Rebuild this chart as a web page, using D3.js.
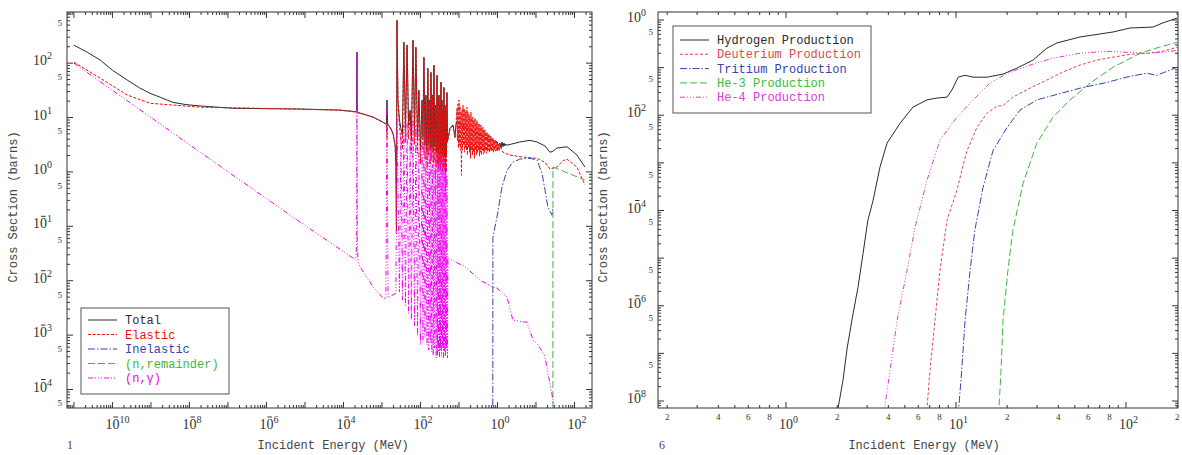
<!DOCTYPE html>
<html><head><meta charset="utf-8">
<script src="https://cdn.jsdelivr.net/npm/d3@7"></script>
<style>body{margin:0;background:#fff}svg{display:block}</style>
</head><body>
<svg id="c" width="1182" height="455"></svg>
<script>
// ---------------- DATA (energy MeV, cross section barns) ----------------
const leftTotal = [[1.0e-11,214],[2.2e-11,159],[4.8e-11,114],[1.0e-10,74],[2.4e-10,49],[5.1e-10,35],[9.4e-10,28],[1.9e-9,23],[3.7e-9,19],[8.1e-9,17.3],[1.9e-8,16.3],[1.35e-7,14.8],[7.4e-6,14.3],[8.1e-5,13.7],[2.1e-4,12.8],[2.2e-4,13.5],[2.24e-4,160],[2.28e-4,13],[2.4e-4,12.4],[5.9e-4,10.2],[1.07e-3,8.2],[1.3e-3,7.5],[1.35e-3,21],[1.4e-3,7.6],[1.7e-3,6.3],[1.94e-3,5.1],[2.2e-3,3.1],[2.3e-3,1.33],[2.38e-3,0.085],[2.45e-3,617],
[2.6e-3,21],[2.85e-3,9],[3.1e-3,6.3],[3.4e-3,4.7],[3.7e-3,244],[4.07e-3,6.3],[4.5e-3,216],[4.9e-3,7.3],[5.4e-3,13.7],[5.8e-3,3.8],[6.4e-3,265],[7.0e-3,5.9],[7.6e-3,197],[8.4e-3,3.8],[9.1e-3,32],[1.0e-2,2.5],[1.1e-2,21],[1.16e-2,4.4],[1.23e-2,129],[1.31e-2,3.1],[1.38e-2,26],[1.48e-2,2.3],[1.55e-2,81],[1.64e-2,3.4],[1.7e-2,21],[1.79e-2,2.5],[1.87e-2,68],[1.97e-2,2.9],[2.04e-2,26],[2.14e-2,2.3],[2.24e-2,92],[2.35e-2,2.9],[2.45e-2,17],[2.56e-2,2.2],[2.7e-2,60],[2.77e-2,2.5],[2.85e-2,21],[2.94e-2,2.2],[3.03e-2,26],[3.12e-2,2.6],[3.21e-2,17],[3.31e-2,2.0],[3.41e-2,45],[3.51e-2,2.5],[3.62e-2,21],[3.73e-2,1.9],[3.84e-2,13.7],[3.96e-2,2.2],[4.07e-2,36],[4.2e-2,2.0],[4.33e-2,17],[4.46e-2,1.0],[4.6e-2,13.7],[4.73e-2,1.9],[4.88e-2,29],[5.03e-2,3.8],[5.84e-2,6.3],[6.98e-2,7.3],[7.87e-2,4.4],[8.35e-2,7.3],
[8.87e-2,8.5],[0.12,7.0],[0.2,5.9],[0.35,4.8],[0.6,4.0],[0.97,3.6],[1.06,3.0],[1.16,3.4],[1.23,2.75],[1.31,3.55],[1.39,2.9],[1.47,3.4],[1.57,3.0],[1.66,3.25],[1.77,3.1],[3.8,3.55],[7.0,3.8],[10.6,3.55],[17.1,3.0],[23.1,2.3],[27.6,2.4],[35,2.75],[64,2.9],[116,2.04],[186,1.23]];

const leftElastic = [[1.0e-11,104],[4.8e-11,53],[2.4e-10,26],[9.4e-10,18.3],[1.9e-8,15.5],[7.4e-6,14.3],[8.1e-5,13.6],[2.1e-4,12.6],[2.24e-4,12.2],[2.4e-4,12.3],[5.9e-4,10.1],[1.07e-3,8.1],[1.3e-3,7.4],[1.35e-3,4],[1.4e-3,7.4],[1.7e-3,6.1],[1.94e-3,4.9],[2.2e-3,2.9],[2.3e-3,1.2],[2.38e-3,0.08],[2.45e-3,600],
[2.6e-3,20],[2.85e-3,7],[3.1e-3,3.8],[3.4e-3,2.6],[3.7e-3,240],[4.07e-3,3.5],[4.5e-3,210],[4.9e-3,4],[5.4e-3,12],[5.8e-3,2.2],[6.4e-3,260],[7.0e-3,3.2],[7.6e-3,190],[8.4e-3,2.2],[9.1e-3,30],[1.0e-2,1.4],[1.1e-2,20],[1.16e-2,2.5],[1.23e-2,125],[1.31e-2,1.7],[1.38e-2,25],[1.48e-2,1.2],[1.55e-2,78],[1.64e-2,2.0],[1.7e-2,20],[1.79e-2,1.4],[1.87e-2,66],[1.97e-2,1.6],[2.04e-2,25],[2.14e-2,1.3],[2.24e-2,90],[2.35e-2,1.6],[2.45e-2,16],[2.56e-2,1.2],[2.7e-2,58],[2.77e-2,1.4],[2.85e-2,20],[2.94e-2,1.2],[3.03e-2,25],[3.12e-2,1.5],[3.21e-2,16],[3.31e-2,1.1],[3.41e-2,44],[3.51e-2,1.4],[3.62e-2,20],[3.73e-2,1.0],[3.84e-2,13],[3.96e-2,1.2],[4.07e-2,35],[4.2e-2,1.1],[4.33e-2,16],[4.46e-2,0.45],[4.6e-2,13],[4.73e-2,1.0],[4.88e-2,28],[5.03e-2,3.5],[5.84e-2,6.0],[6.98e-2,7.0],[7.87e-2,4.2],[8.35e-2,7.0],
[0.0887,14.8],[0.0914,3.8],[0.0942,17.6],[0.0970,2.75],[0.100,21],[0.103,3.1],[0.106,16.2],[0.109,2.5],[0.113,12.6],[0.116,0.87],[0.120,13.7],[0.123,2.5],[0.127,17],[0.131,3.1],[0.135,14.8],[0.139,2.3],[0.143,13.7],[0.148,2.75],[0.152,12.6],[0.157,2.5],[0.161,15.5],[0.166,2.04],[0.171,12.6],[0.177,2.75],[0.182,11.5],[0.188,2.3],[0.193,10.6],[0.199,1.78],[0.205,12.6],[0.211,2.5],[0.218,9.8],[0.224,2.04],[0.231,10.2],[0.238,2.3],[0.245,8.9],[0.253,1.78],[0.261,9.8],[0.269,2.5],[0.277,8.2],[0.285,2.04],[0.294,8.9],[0.303,2.2],[0.312,7.6],[0.321,2.5],[0.331,7.9],[0.341,1.95],[0.351,6.95],[0.362,2.3],[0.373,7.3],[0.384,2.04],[0.396,6.4],[0.408,2.5],[0.420,6.7],[0.433,2.12],[0.446,5.9],[0.459,2.3],[0.473,5.9],[0.487,2.5],[0.502,5.4],[0.517,2.2],[0.533,5.4],[0.549,2.41],[0.566,5.0],[0.583,2.5],[0.601,5.0],[0.619,2.3],[0.638,4.55],[0.657,2.5],[0.678,4.55],[0.698,2.41],[0.719,4.2],[0.741,2.5],[0.764,4.2],[0.787,2.3],[0.811,3.8],[0.835,2.5],[0.861,3.8],[0.887,2.41],[0.914,3.55],[0.941,2.5],[0.970,3.55],[1.0,2.41],[1.03,3.25],[1.06,2.5],[1.09,3.25],[1.13,2.5],[1.16,3.1],
[1.39,2.3],[2.1,2.04],[4.6,1.87],[10.6,1.78],[17.1,1.5],[23.1,1.13],[27.6,1.17],[35,1.23],[50,1.6],[64,1.72],[116,1.23],[186,0.58]];

const leftInelastic = [[0.755,3e-5],[0.76,0.063],[0.97,0.148],[1.31,0.53],[1.77,1.07],[2.5,1.51],[3.8,1.72],[7.0,1.78],[10.6,1.66],[14.3,0.95],[17.1,0.47],[20.4,0.225],[26.1,0.16],[27.6,0.225]];

const leftRemainder = [[27.5,3e-5],[27.6,1.23],[186,0.71]];

const leftCapture = [[1.0e-11,100],[1.9e-8,2.3],[7.4e-6,0.12],[1.78e-4,0.026],[2.1e-4,0.024],[2.2e-4,0.05],[2.24e-4,159],[2.28e-4,0.05],[2.4e-4,0.022],[2.7e-4,0.018],[5.9e-4,7.6e-3],[1.07e-3,4.8e-3],[1.26e-3,4.6e-3],[1.35e-3,17],[1.44e-3,4.8e-3],[1.7e-3,5.2e-3],[2.3e-3,5.9e-3],
[2.45e-3,9.8],[2.85e-3,6.2e-3],[3.1e-3,4.7],[3.4e-3,4.4e-3],[3.7e-3,7.3],[4.07e-3,3.5e-3],[4.5e-3,8.2],[4.9e-3,2.5e-3],[5.4e-3,3.8],[5.8e-3,1.9e-3],[6.4e-3,8.9],[7.0e-3,1.5e-3],[7.6e-3,7.3],[8.4e-3,1.0e-3],[9.1e-3,2.5],[1.0e-2,6.6e-4],[1.1e-2,3.1],[1.16e-2,8.1e-4],[1.23e-2,4.7],[1.31e-2,9.1e-4],[1.38e-2,2.0],[1.48e-2,6.6e-4],[1.55e-2,3.1],[1.64e-2,5.3e-4],[1.7e-2,1.66],[1.79e-2,7.1e-4],[1.87e-2,2.75],[1.97e-2,4.9e-4],[2.04e-2,1.33],[2.14e-2,4.3e-4],[2.24e-2,2.5],[2.35e-2,5.8e-4],[2.45e-2,1.78],[2.56e-2,3.8e-4],[2.7e-2,2.3],[2.77e-2,4.3e-4],[2.85e-2,1.33],[2.94e-2,4.9e-4],[3.03e-2,1.66],[3.12e-2,3.8e-4],[3.21e-2,2.04],[3.31e-2,5.3e-4],[3.41e-2,1.51],[3.51e-2,4.1e-4],[3.62e-2,1.78],[3.73e-2,5.8e-4],[3.84e-2,1.17],[3.96e-2,3.8e-4],[4.07e-2,1.66],[4.2e-2,4.9e-4],[4.33e-2,1.07],[4.46e-2,4.1e-4],[4.6e-2,1.33],[4.73e-2,5.3e-4],[4.88e-2,0.87],[5.03e-2,3.8e-4],
[5.18e-2,0.026],[0.144,0.018],[0.35,0.0103],[0.76,7.6e-3],[0.97,7.3e-3],[1.77,5.0e-3],[2.5,1.9e-3],[4.6,1.74e-3],[5.8,1.74e-3],[8.4,8.1e-4],[10.6,7.1e-4],[15.2,4.7e-4],[17.1,4.0e-4],[20.4,2.0e-4],[27.6,6.5e-5],[29,4e-5]];

const rightHydrogen = [[2.0,5e-9],[2.02,6.8e-9],[2.16,2.6e-8],[2.29,1.3e-7],[2.48,6.8e-7],[2.65,2.4e-6],[2.84,1.26e-5],[3.03,6.2e-5],[3.25,1.6e-4],[3.57,8.1e-4],[3.93,2.6e-3],[4.69,6.8e-3],[5.58,1.48e-2],[6.75,2.1e-2],[7.73,2.3e-2],[8.85,2.4e-2],[9.47,3.4e-2],[10.3,6.3e-2],[11.3,6.9e-2],[12.6,6.3e-2],[15.2,6.3e-2],[18.9,7.3e-2],[22.9,9.8e-2],[28.4,0.144],[34.3,0.257],[39.3,0.33],[53.6,0.44],[84,0.56],[106,0.68],[144,0.71],[165,0.87],[200,1.1]];
const rightDeuterium = [[6.7,5e-9],[7.03,4.3e-8],[7.52,4.8e-7],[8.05,5.5e-6],[8.85,6.2e-5],[10.1,2.6e-4],[11.6,1.8e-3],[13.3,5.6e-3],[15.2,1.1e-2],[17.4,1.55e-2],[18.9,1.6e-2],[21.6,2.4e-2],[27.2,3.7e-2],[34.3,5.5e-2],[42.6,8.1e-2],[53.6,0.113],[67.5,0.144],[84,0.166],[106,0.19],[133,0.2],[165,0.22],[200,0.27]];
const rightTritium = [[10.3,5e-9],[10.8,4.3e-8],[11.3,4.8e-7],[12.1,5.5e-6],[12.9,3.8e-5],[14.4,3.0e-4],[16.5,1.8e-3],[20,5.6e-3],[23.8,1.28e-2],[29.9,2.1e-2],[37.2,2.6e-2],[53.6,3.7e-2],[77.3,4.9e-2],[106,6.6e-2],[133,7.6e-2],[152,6.9e-2],[200,0.102]];
const rightHe3 = [[17.8,5e-9],[18.4,4.3e-8],[18.9,4.8e-7],[20.2,5.5e-6],[21.6,3.8e-5],[24.8,3.7e-4],[29.9,2.6e-3],[37.2,9.1e-3],[46.9,2.1e-2],[61.4,4.7e-2],[84,0.102],[121,0.2],[158,0.27],[200,0.34]];
const rightHe4 = [[3.75,5e-9],[4.09,4.3e-8],[4.5,4.8e-7],[5.15,5.5e-6],[5.74,4.4e-5],[6.75,4.3e-4],[8.05,3.0e-3],[10.1,9.1e-3],[12.6,2.1e-2],[15.8,4.7e-2],[20,7.6e-2],[27.2,0.113],[37.2,0.158],[53.6,0.2],[77.3,0.22],[101,0.21],[133,0.2],[165,0.21],[200,0.23]];

const leftLegendLabels = ["Total","Elastic","Inelastic","(n,remainder)","(n,\u03b3)"];
const rightLegendLabels = ["Hydrogen Production","Deuterium Production","Tritium Production","He-3 Production","He-4 Production"];
const leftXLabelExps = [-10,-8,-6,-4,-2,0,2];
const leftYLabelExps = [2,1,0,-1,-2,-3,-4];
const leftYFiveExps = [2,1,0,-1,-2,-3,-4,-5];
const rightXLabelExps = [0,1,2];
const rightXDigitLabels = [2,4,6,8];
const rightYLabelExps = [0,-2,-4,-6,-8];
const rightYFiveExps = [-1,-2,-3,-4,-5,-6,-7,-8];

// ---------------- STYLES ----------------
const styles = [
  {color:"#2a2a2a", dash:null},
  {color:"#f01010", dash:"3,1.6"},
  {color:"#3344aa", dash:"7,2,1.5,2"},
  {color:"#3cb83c", dash:"7,3"},
  {color:"#f000f0", dash:"5,2,1,2,1,2,1,2"}
];
const rstyles = [
  {color:"#2a2a2a", dash:null},
  {color:"#e04848", dash:"3,2"},
  {color:"#3344aa", dash:"7,2,1.5,2"},
  {color:"#3cb83c", dash:"7,3"},
  {color:"#d840d8", dash:"5,2,1,2,1,2,1,2"}
];

const svg = d3.select('#c');
const AX = "#333";
const SERIF = "'Liberation Serif','DejaVu Serif',serif";
const MONO = "'Liberation Mono','DejaVu Sans Mono',monospace";

// "10" with superscript exponent; a negative sign is drawn as a bar over the "0"
function powText(g, x, y, exp, anchor) {
  const t = g.append('text').attr('x', x).attr('y', y).attr('text-anchor', anchor)
    .attr('font-family', SERIF).attr('font-size', 14).attr('fill', AX);
  t.append('tspan').text('10');
  const digits = String(Math.abs(exp));
  t.append('tspan').attr('font-size', 10).attr('dy', -6).text(digits);
  if (exp < 0) {
    const dw = 5 * digits.length;
    const zeroRight = anchor === 'end' ? x - dw : x + 14;
    g.append('line').attr('x1', zeroRight - 6).attr('x2', zeroRight - 1.5)
      .attr('y1', y - 12).attr('y2', y - 12).attr('stroke', AX).attr('stroke-width', 1);
  }
  return t;
}

function panel(cfg) {
  const x = d3.scaleLog().domain(cfg.xDomain).range([cfg.x0, cfg.x1]);
  const y = d3.scaleLog().domain(cfg.yDomain).range([cfg.y1, cfg.y0]);
  const g = svg.append('g');
  const cid = 'clip' + cfg.id;
  svg.append('clipPath').attr('id', cid).append('rect')
    .attr('x', cfg.x0).attr('y', cfg.y0).attr('width', cfg.x1 - cfg.x0).attr('height', cfg.y1 - cfg.y0);

  // ticks
  const tk = g.append('g').attr('stroke', AX).attr('stroke-width', 1);
  function logTicks(dom) {
    const out = [];
    const a = Math.floor(Math.log10(dom[0])), b = Math.ceil(Math.log10(dom[1]));
    for (let k = a; k <= b; k++) for (let m = 1; m <= 9; m++) {
      const v = m * Math.pow(10, k);
      if (v >= dom[0] * 0.9999 && v <= dom[1] * 1.0001) out.push({v, major: m === 1});
    }
    return out;
  }
  logTicks(cfg.xDomain).forEach(t => {
    const px = x(t.v), L = t.major ? 6 : 3;
    tk.append('line').attr('x1', px).attr('x2', px).attr('y1', cfg.y1).attr('y2', cfg.y1 - L);
    tk.append('line').attr('x1', px).attr('x2', px).attr('y1', cfg.y0).attr('y2', cfg.y0 + L);
  });
  logTicks(cfg.yDomain).forEach(t => {
    const py = y(t.v), L = t.major ? 6 : 3;
    tk.append('line').attr('y1', py).attr('y2', py).attr('x1', cfg.x0).attr('x2', cfg.x0 + L);
    tk.append('line').attr('y1', py).attr('y2', py).attr('x1', cfg.x1).attr('x2', cfg.x1 - L);
  });

  // series
  const line = d3.line().x(d => x(d[0])).y(d => y(d[1]));
  const sg = g.append('g').attr('clip-path', `url(#${cid})`);
  cfg.series.forEach((s, i) => {
    const st = cfg.styles[i];
    sg.append('path').datum(s).attr('d', line).attr('fill', 'none')
      .attr('stroke', st.color).attr('stroke-width', 1)
      .attr('stroke-dasharray', st.dash);
  });

  // frame
  g.append('rect').attr('x', cfg.x0).attr('y', cfg.y0).attr('width', cfg.x1 - cfg.x0)
    .attr('height', cfg.y1 - cfg.y0).attr('fill', 'none').attr('stroke', AX).attr('stroke-width', 1);

  // y labels
  cfg.yLabelExps.forEach(e => powText(g, cfg.yLabX, y(Math.pow(10, e)) + 2, e, 'end'));
  cfg.yFiveExps.forEach(e => {
    const v = 5 * Math.pow(10, e);
    if (v < cfg.yDomain[0] || v > cfg.yDomain[1]) return;
    g.append('text').attr('x', cfg.yFiveX).attr('y', y(v) + 0.5).attr('text-anchor', 'end')
      .attr('font-family', SERIF).attr('font-size', 9).attr('fill', AX).text('5');
  });
  // x labels
  cfg.xLabelExps.forEach(e => powText(g, x(Math.pow(10, e)) - 7, 429, e, 'start'));
  if (cfg.xDigits) {
    for (let k = -1; k <= 2; k++) cfg.xDigits.forEach(d => {
      const v = d * Math.pow(10, k);
      if (v < cfg.xDomain[0] || v > cfg.xDomain[1] * 1.001) return;
      g.append('text').attr('x', x(v)).attr('y', 420).attr('text-anchor', 'middle')
        .attr('font-family', SERIF).attr('font-size', 9).attr('fill', AX).text(String(d));
    });
  }
  // titles
  g.append('text').attr('transform', `translate(${cfg.yTitleX},207) rotate(-90)`)
    .attr('text-anchor', 'middle').attr('font-family', MONO).attr('font-size', 12).attr('fill', '#444')
    .text('Cross Section (barns)');
  g.append('text').attr('x', cfg.xTitleX).attr('y', 449).attr('text-anchor', 'middle')
    .attr('font-family', MONO).attr('font-size', 12).attr('fill', '#444').text('Incident Energy (MeV)');
  g.append('text').attr('x', cfg.numX).attr('y', 449).attr('font-family', SERIF)
    .attr('font-size', 12).attr('fill', '#444').text(cfg.num);

  // legend
  const L = cfg.legend;
  g.append('rect').attr('x', L.x).attr('y', L.y).attr('width', L.w).attr('height', L.h)
    .attr('fill', '#fff').attr('stroke', '#555').attr('stroke-width', 1);
  cfg.legendLabels.forEach((lab, i) => {
    const yy = L.y + L.first + i * L.step;
    const st = cfg.styles[i];
    g.append('line').attr('x1', L.x + 7).attr('x2', L.x + 36).attr('y1', yy).attr('y2', yy)
      .attr('stroke', st.color).attr('stroke-width', 1).attr('stroke-dasharray', st.dash);
    g.append('text').attr('x', L.x + 44).attr('y', yy + 4).attr('font-family', MONO)
      .attr('font-size', 12).attr('fill', st.color).text(lab);
  });
}

panel({
  id: 'L', x0: 67, x1: 592, y0: 12, y1: 408,
  xDomain: [6.6e-12, 285], yDomain: [4.57e-5, 871],
  series: [leftTotal, leftElastic, leftInelastic, leftRemainder, leftCapture],
  styles: styles,
  yLabelExps: leftYLabelExps, yFiveExps: leftYFiveExps, yLabX: 52, yFiveX: 62,
  xLabelExps: leftXLabelExps, xDigits: null,
  yTitleX: 17, xTitleX: 333, num: '1', numX: 67,
  legend: {x: 81, y: 308, w: 148, h: 86, first: 12, step: 14.5},
  legendLabels: leftLegendLabels
});

panel({
  id: 'R', x0: 658, x1: 1178, y0: 12, y1: 408,
  xDomain: [0.1766, 202.3], yDomain: [7.13e-9, 1.472],
  series: [rightHydrogen, rightDeuterium, rightTritium, rightHe3, rightHe4],
  styles: rstyles,
  yLabelExps: rightYLabelExps, yFiveExps: rightYFiveExps, yLabX: 646, yFiveX: 653,
  xLabelExps: rightXLabelExps, xDigits: rightXDigitLabels,
  yTitleX: 607, xTitleX: 924, num: '6', numX: 659,
  legend: {x: 673, y: 26, w: 198, h: 87, first: 14, step: 14.3},
  legendLabels: rightLegendLabels
});
</script>
</body></html>
